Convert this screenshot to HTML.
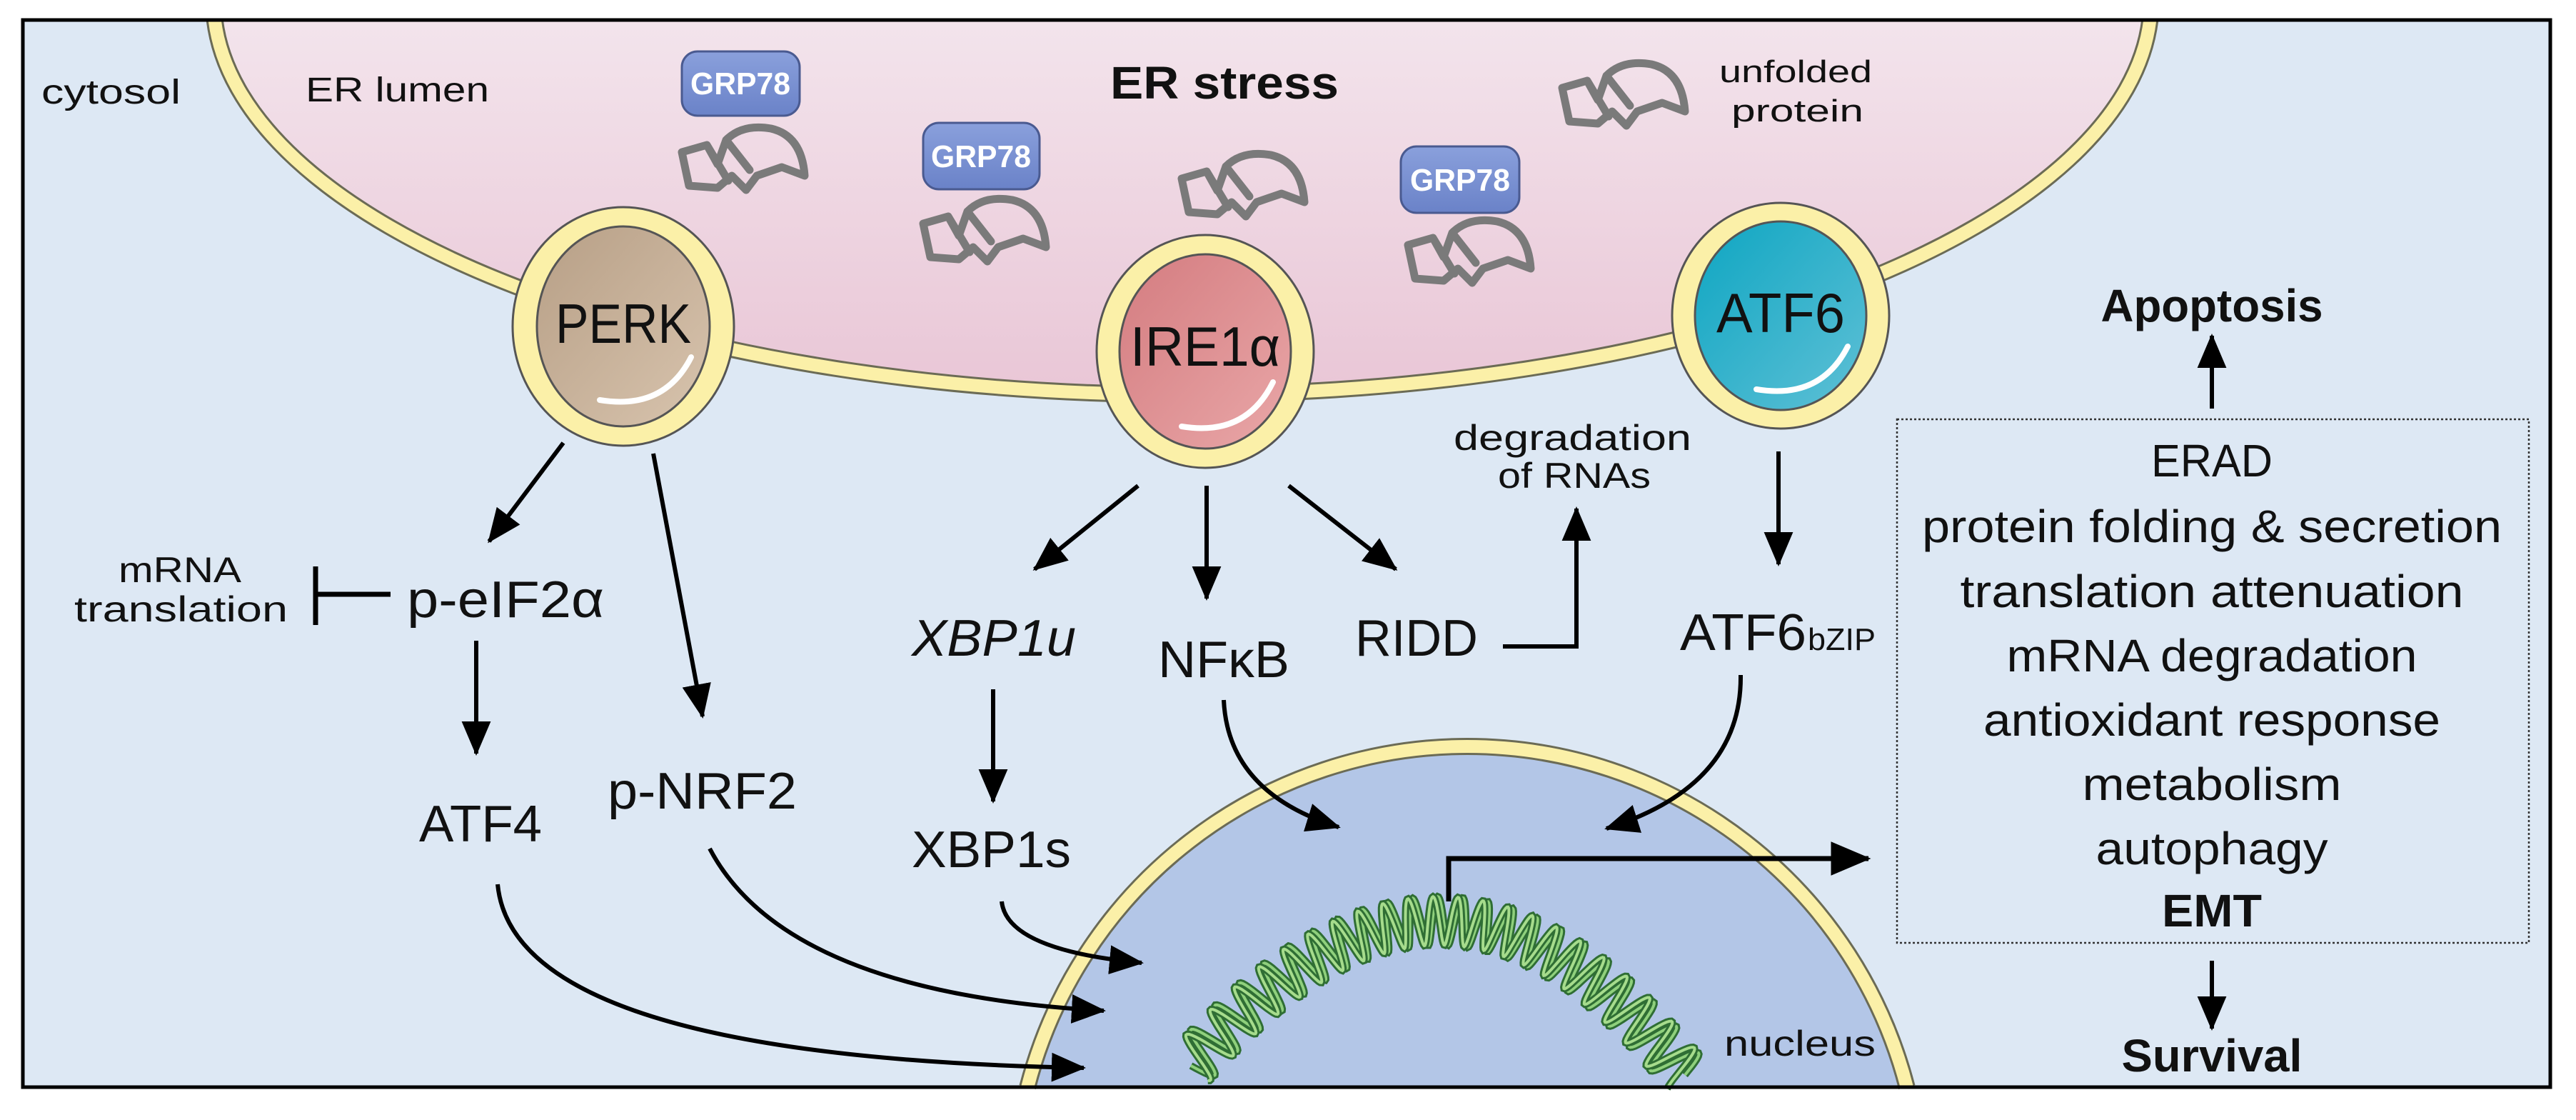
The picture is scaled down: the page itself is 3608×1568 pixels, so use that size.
<!DOCTYPE html>
<html><head><meta charset="utf-8"><style>
html,body{margin:0;padding:0;background:#fff;width:3608px;height:1568px;overflow:hidden;}
svg{display:block;}
text{font-family:"Liberation Sans",sans-serif;fill:#111;}
</style></head><body>
<svg id="s" width="3608" height="1568" viewBox="0 0 3608 1568" xmlns="http://www.w3.org/2000/svg">
<defs>
<linearGradient id="pink" x1="0" y1="0" x2="0" y2="1"><stop offset="0" stop-color="#f3e4ec"/><stop offset="1" stop-color="#e9c6d6"/></linearGradient>
<linearGradient id="perk" x1="0" y1="0" x2="1" y2="1"><stop offset="0" stop-color="#b79f86"/><stop offset="1" stop-color="#d8c4ae"/></linearGradient>
<linearGradient id="ire" x1="0" y1="0" x2="1" y2="1"><stop offset="0" stop-color="#d47c80"/><stop offset="1" stop-color="#e9a7a8"/></linearGradient>
<linearGradient id="atf" x1="0" y1="0" x2="1" y2="1"><stop offset="0" stop-color="#0ea6c2"/><stop offset="1" stop-color="#5fc0d6"/></linearGradient>
<linearGradient id="grp" x1="0" y1="0" x2="0" y2="1"><stop offset="0" stop-color="#8aa0dc"/><stop offset="1" stop-color="#6a82c8"/></linearGradient>
<marker id="ah" markerWidth="9" markerHeight="9" refX="7.5" refY="4" orient="auto" markerUnits="strokeWidth"><path d="M0,0.6 L8,4 L0,7.4 Z" fill="#000"/></marker>
<g id="up"><path d="M10,45 L45,35 L60,62 L72,28 Q95,5 135,12 Q178,22 182,78 L150,66 L115,78 L100,98 L80,78 L60,95 L20,92 Z M45,35 L75,85 M72,28 L105,70" fill="none" stroke="#7a7a7a" stroke-width="11" stroke-linejoin="round" stroke-linecap="round"/></g>
</defs>
<rect x="32" y="28" width="3540" height="1494" fill="#dde8f4"/>
<path d="M300.7,28 A1357 552 0 0 0 3011.3,28 Z" fill="url(#pink)"/>
<path d="M300.7,28 A1357 552 0 0 0 3011.3,28" fill="none" stroke="#6b6b55" stroke-width="24"/>
<path d="M300.7,28 A1357 552 0 0 0 3011.3,28" fill="none" stroke="#fbf0a8" stroke-width="18"/>
<path d="M1439.2,1522 A636 636 0 0 1 2670.8,1522 Z" fill="#b3c6e7"/>
<path d="M1439.2,1522 A636 636 0 0 1 2670.8,1522" fill="none" stroke="#6b6b55" stroke-width="24"/>
<path d="M1439.2,1522 A636 636 0 0 1 2670.8,1522" fill="none" stroke="#fbf0a8" stroke-width="18"/>
<g id="dna"></g>
<rect x="32" y="28" width="3540" height="1494" fill="none" stroke="#000" stroke-width="5"/>

<g stroke="#555" stroke-width="3">
<ellipse cx="873" cy="457" rx="155" ry="167" fill="#fbf0a8"/>
<ellipse cx="873" cy="457" rx="121" ry="140" fill="url(#perk)"/>
<ellipse cx="1688" cy="492" rx="152" ry="163" fill="#fbf0a8"/>
<ellipse cx="1688" cy="492" rx="120" ry="136" fill="url(#ire)"/>
<ellipse cx="2494" cy="442" rx="152" ry="158" fill="#fbf0a8"/>
<ellipse cx="2494" cy="442" rx="120" ry="132" fill="url(#atf)"/>
</g>
<g fill="none" stroke="#fff" stroke-width="8" stroke-linecap="round">
<path d="M840,560 Q930,575 968,500"/>
<path d="M1655,597 Q1745,612 1783,535"/>
<path d="M2460,545 Q2550,560 2588,485"/>
</g>
<text x="873" y="480" font-size="78" text-anchor="middle" textLength="190" lengthAdjust="spacingAndGlyphs">PERK</text>
<text x="1688" y="512" font-size="78" text-anchor="middle" textLength="210" lengthAdjust="spacingAndGlyphs">IRE1α</text>
<text x="2494" y="465" font-size="78" text-anchor="middle" textLength="180" lengthAdjust="spacingAndGlyphs">ATF6</text>

<g stroke="#4a5a90" stroke-width="3" fill="url(#grp)">
<rect x="955" y="72" width="165" height="90" rx="22"/>
<rect x="1293" y="172" width="163" height="93" rx="22"/>
<rect x="1962" y="205" width="166" height="93" rx="22"/>
</g>
<g font-weight="bold" font-size="44" text-anchor="middle">
<text x="1037" y="132" style="fill:#fff" textLength="140" lengthAdjust="spacingAndGlyphs">GRP78</text>
<text x="1374" y="234" style="fill:#fff" textLength="140" lengthAdjust="spacingAndGlyphs">GRP78</text>
<text x="2045" y="267" style="fill:#fff" textLength="140" lengthAdjust="spacingAndGlyphs">GRP78</text>
</g>
<use href="#up" x="945" y="168"/>
<use href="#up" x="1283" y="268"/>
<use href="#up" x="1645" y="205"/>
<use href="#up" x="1962" y="298"/>
<use href="#up" x="2178" y="78"/>

<text x="58" y="145" font-size="48" textLength="195" lengthAdjust="spacingAndGlyphs">cytosol</text>
<text x="428" y="142" font-size="48" textLength="257" lengthAdjust="spacingAndGlyphs">ER lumen</text>
<text x="1555" y="138" font-size="64" font-weight="bold" textLength="320" lengthAdjust="spacingAndGlyphs">ER stress</text>
<text x="2408" y="115" font-size="44" textLength="214" lengthAdjust="spacingAndGlyphs">unfolded</text>
<text x="2425" y="170" font-size="44" textLength="185" lengthAdjust="spacingAndGlyphs">protein</text>
<text x="2036" y="630" font-size="50" textLength="333" lengthAdjust="spacingAndGlyphs">degradation</text>
<text x="2098" y="683" font-size="50" textLength="214" lengthAdjust="spacingAndGlyphs">of RNAs</text>
<text x="166" y="815" font-size="50" textLength="172" lengthAdjust="spacingAndGlyphs">mRNA</text>
<text x="104" y="870" font-size="50" textLength="299" lengthAdjust="spacingAndGlyphs">translation</text>
<g font-size="72">
<text x="570" y="864" textLength="276" lengthAdjust="spacingAndGlyphs">p-eIF2α</text>
<text x="587" y="1178" textLength="172" lengthAdjust="spacingAndGlyphs">ATF4</text>
<text x="851" y="1132" textLength="265" lengthAdjust="spacingAndGlyphs">p-NRF2</text>
<text x="1277" y="918" font-style="italic" textLength="230" lengthAdjust="spacingAndGlyphs">XBP1u</text>
<text x="1622" y="948" textLength="184" lengthAdjust="spacingAndGlyphs">NFκB</text>
<text x="1898" y="918" textLength="172" lengthAdjust="spacingAndGlyphs">RIDD</text>
<text x="2353" y="910" textLength="177" lengthAdjust="spacingAndGlyphs">ATF6</text>
<text x="1277" y="1214" textLength="223" lengthAdjust="spacingAndGlyphs">XBP1s</text>
</g>
<text x="2532" y="910" font-size="44" textLength="95" lengthAdjust="spacingAndGlyphs">bZIP</text>
<text x="2415" y="1478" font-size="50" textLength="212" lengthAdjust="spacingAndGlyphs">nucleus</text>

<rect x="2657" y="587" width="885" height="733" fill="none" stroke="#333" stroke-width="2.5" stroke-dasharray="3,3"/>
<g font-size="64" text-anchor="middle">
<text x="3098" y="667" textLength="170" lengthAdjust="spacingAndGlyphs">ERAD</text>
<text x="3098" y="759" textLength="812" lengthAdjust="spacingAndGlyphs">protein folding &amp; secretion</text>
<text x="3098" y="850" textLength="705" lengthAdjust="spacingAndGlyphs">translation attenuation</text>
<text x="3098" y="940" textLength="575" lengthAdjust="spacingAndGlyphs">mRNA degradation</text>
<text x="3098" y="1030" textLength="640" lengthAdjust="spacingAndGlyphs">antioxidant response</text>
<text x="3098" y="1120" textLength="363" lengthAdjust="spacingAndGlyphs">metabolism</text>
<text x="3098" y="1210" textLength="325" lengthAdjust="spacingAndGlyphs">autophagy</text>
<text x="3098" y="1297" font-weight="bold" textLength="140" lengthAdjust="spacingAndGlyphs">EMT</text>
<text x="3098" y="450" font-weight="bold" textLength="311" lengthAdjust="spacingAndGlyphs">Apoptosis</text>
<text x="3098" y="1500" font-weight="bold" textLength="253" lengthAdjust="spacingAndGlyphs">Survival</text>
</g>

<g fill="none" stroke="#000" stroke-width="6" marker-end="url(#ah)">
<line x1="789" y1="620" x2="685" y2="758"/>
<line x1="915" y1="635" x2="984" y2="1003"/>
<line x1="667" y1="897" x2="667" y2="1055"/>
<line x1="1594" y1="680" x2="1449" y2="797"/>
<line x1="1690" y1="680" x2="1690" y2="838"/>
<line x1="1805" y1="680" x2="1955" y2="797"/>
<polyline points="2105,905 2208,905 2208,712"/>
<line x1="2491" y1="632" x2="2491" y2="790"/>
<line x1="1391" y1="965" x2="1391" y2="1122"/>
<line x1="3098" y1="572" x2="3098" y2="470"/>
<line x1="3098" y1="1345" x2="3098" y2="1440"/>
<path d="M1714,980 Q1720,1110 1875,1158"/>
<path d="M2438,945 Q2440,1100 2250,1160"/>
<path d="M1403,1262 Q1410,1330 1599,1348"/>
<path d="M994,1188 Q1100,1390 1546,1415"/>
<path d="M697,1238 Q720,1480 1518,1495"/>
<polyline points="2029,1262 2029,1202 2617,1202" stroke-width="7"/>
</g>
<g stroke="#000" stroke-width="7" fill="none">
<line x1="442" y1="832" x2="547" y2="832"/>
<line x1="442" y1="793" x2="442" y2="875"/>
</g>
</svg>
<script>
(function(){
var g=document.getElementById('dna');
function P(t){var a=[1668,1492],c=[2030,1080],b=[2360,1505];var u=1-t;
return [u*u*a[0]+2*u*t*c[0]+t*t*b[0],u*u*a[1]+2*u*t*c[1]+t*t*b[1]];}
function strand(ph,col,w){var d='';var N=600;for(var i=0;i<=N;i++){var t=i/N;var p=P(t),q=P(Math.min(1,t+0.001)),r=P(Math.max(0,t-0.001));
var dx=q[0]-r[0],dy=q[1]-r[1],L=Math.sqrt(dx*dx+dy*dy);var nx=-dy/L,ny=dx/L;var A=34*Math.sin(t*Math.PI*2*22+ph);
d+=(i?'L':'M')+(p[0]+nx*A).toFixed(1)+','+(p[1]+ny*A).toFixed(1);}
var e=document.createElementNS('http://www.w3.org/2000/svg','path');e.setAttribute('d',d);e.setAttribute('fill','none');e.setAttribute('stroke',col);e.setAttribute('stroke-width',w);g.appendChild(e);}
strand(0,'#2f6e34',10);strand(0,'#8fd07c',4);strand(1.2,'#2f6e34',10);strand(1.2,'#a6dc8c',4);
})();
</script>
</body></html>
